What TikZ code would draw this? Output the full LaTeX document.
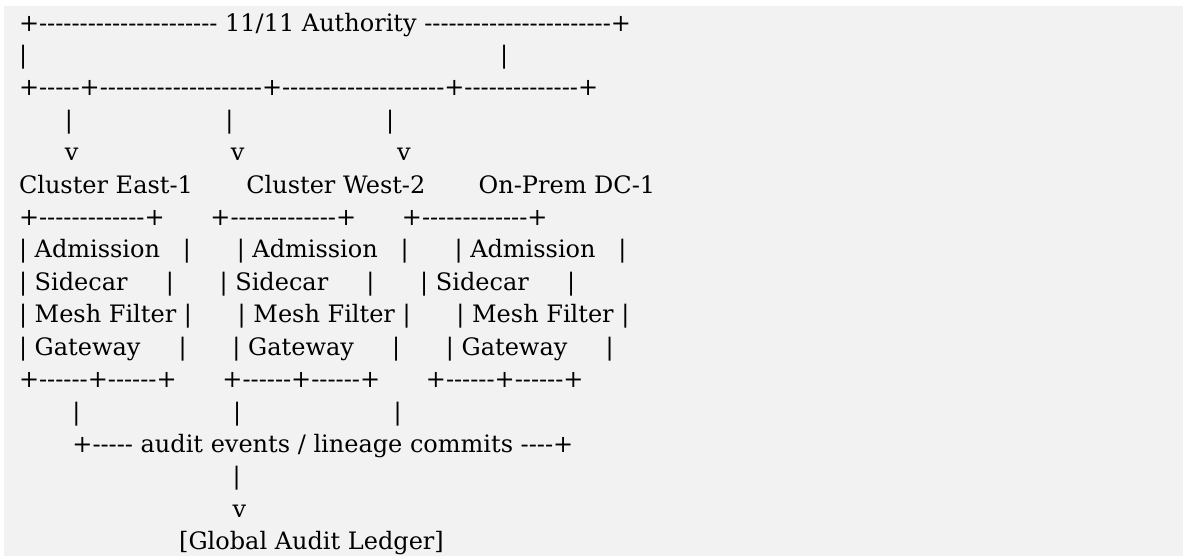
\documentclass[tikz,border=0pt]{standalone}
\usepackage{fontspec}
\newfontfamily\asciifont{DejaVu Serif}
\definecolor{panel}{HTML}{F2F2F2}
\newcommand\gapn[1]{\hskip #1\fontdimen2\font\relax}
\begin{document}
\begin{tikzpicture}[x=0.75pt,y=-0.75pt,
  txtline/.style={anchor=base west, inner sep=0pt, outer sep=0pt,
    font=\asciifont\fontsize{18pt}{24pt}\selectfont, text=black}]
\fill[white] (0,0) rectangle (1183,556);
\fill[panel] (4,6) rectangle (1183,556);
\useasboundingbox (0,0) rectangle (1183,556);
% 22 dashes left, 23 dashes right
\node[txtline] (l1) at (19,31.2) {+----------------------\gapn{1}11/11 Authority\gapn{1}-----------------------+};
\node[txtline] (l2) at (19,63.6) {|\gapn{62}|};
% 5, 20, 20, 14 dashes
\node[txtline] (l3) at (19,96.0) {+-----+--------------------+--------------------+--------------+};
\node[txtline] (l4) at (19,128.4) {\gapn{6}|\gapn{20}|\gapn{20}|};
\node[txtline] (l5) at (19,160.8) {\gapn{6}v\gapn{20}v\gapn{20}v};
\node[txtline] (l6) at (19,193.2) {Cluster East-1\gapn{7}Cluster West-2\gapn{7}On-Prem DC-1};
\node[txtline] (l7) at (19,225.6) {+-------------+\gapn{6}+-------------+\gapn{6}+-------------+};
\node[txtline] (l8) at (19,258.0) {|\gapn{1}Admission\gapn{3}|\gapn{6}|\gapn{1}Admission\gapn{3}|\gapn{6}|\gapn{1}Admission\gapn{3}|};
\node[txtline] (l9) at (19,290.4) {|\gapn{1}Sidecar\gapn{5}|\gapn{6}|\gapn{1}Sidecar\gapn{5}|\gapn{6}|\gapn{1}Sidecar\gapn{5}|};
\node[txtline] (l10) at (19,322.8) {|\gapn{1}Mesh Filter\gapn{1}|\gapn{6}|\gapn{1}Mesh Filter\gapn{1}|\gapn{6}|\gapn{1}Mesh Filter\gapn{1}|};
\node[txtline] (l11) at (19,355.2) {|\gapn{1}Gateway\gapn{5}|\gapn{6}|\gapn{1}Gateway\gapn{5}|\gapn{6}|\gapn{1}Gateway\gapn{5}|};
\node[txtline] (l12) at (19,387.6) {+------+------+\gapn{6}+------+------+\gapn{6}+------+------+};
\node[txtline] (l13) at (19,420.0) {\gapn{7}|\gapn{20}|\gapn{20}|};
\node[txtline] (l14) at (19,452.4) {\gapn{7}+-----\gapn{1}audit events / lineage commits\gapn{1}----+};
\node[txtline] (l15) at (19,484.8) {\gapn{28}|};
\node[txtline] (l16) at (19,517.2) {\gapn{28}v};
\node[txtline] (l17) at (19,549.6) {\gapn{21}[Global Audit Ledger]};
\end{tikzpicture}
\end{document}
